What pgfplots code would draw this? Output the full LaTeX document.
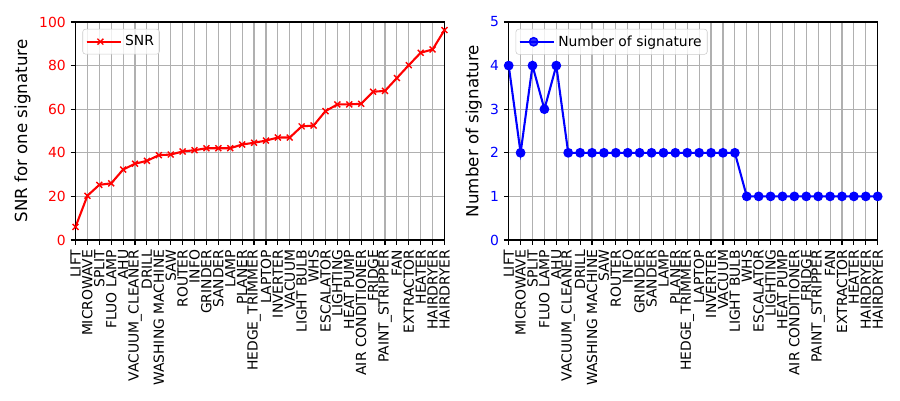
\documentclass[border=0pt]{standalone}
\usepackage{fontspec}
\setmainfont{DejaVu Sans}
\usepackage{pgfplots}
\pgfplotsset{compat=1.18}
\definecolor{gridgray}{HTML}{B0B0B0}
\definecolor{legendedge}{HTML}{CCCCCC}
\definecolor{mplred}{rgb}{1,0,0}
\definecolor{mplblue}{rgb}{0,0,1}

\pgfplotstableread{
x snr nsig
0 6.0 4
1 20.3 2
2 25.3 4
3 26.0 3
4 32.3 4
5 35.0 2
6 36.3 2
7 38.9 2
8 39.2 2
9 40.6 2
10 41.2 2
11 42.1 2
12 42.1 2
13 42.1 2
14 43.8 2
15 44.6 2
16 45.6 2
17 47.0 2
18 47.0 2
19 52.1 2
20 52.5 1
21 59.1 1
22 62.2 1
23 62.2 1
24 62.5 1
25 68.0 1
26 68.4 1
27 74.3 1
28 80.2 1
29 85.9 1
30 87.4 1
31 96.3 1
}\datatable

\pgfplotsset{
  mystyle/.style={
    scale only axis,
    width=265.68pt, height=156.96pt,
    anchor=south west,
    xmin=0, xmax=31,
    xtick={0,...,31},
    xticklabels={LIFT,MICROWAVE,SPLIT,FLUO LAMP,AHU,VACUUM\_CLEANER,DRILL,WASHING MACHINE,SAW,ROUTER,INFO,GRINDER,SANDER,LAMP,PLANER,HEDGE\_TRIMMER,LAPTOP,INVERTER,VACUUM,LIGHT BULB,WHS,ESCALATOR,LIGHTING,HEAT PUMP,AIR CONDITIONER,FRIDGE,PAINT\_STRIPPER,FAN,EXTRACTOR,HEATER,HAIRDRYER,HAIRDRYER},
    tick align=outside,
    tick pos=left,
    major tick length=3.5pt,
    every tick/.style={black, line width=0.8pt},
    grid=major,
    major grid style={gridgray, line width=0.8pt},
    axis line style={line width=0.8pt},
    tick label style={font=\fontsize{10}{12}\selectfont},
    xticklabel style={rotate=90, anchor=east, text=black},
    /pgf/number format/assume math mode=true,
    every axis y label/.style={at={(rel axis cs:0,0.5)}, rotate=90, anchor=center, font=\fontsize{12}{14}\selectfont},
    legend cell align=left,
    legend style={at={(0,1)}, anchor=north west, xshift=5pt, yshift=-5pt,
      draw=legendedge, rounded corners=2pt, fill=white, fill opacity=0.8, text opacity=1, draw opacity=1,
      font=\fontsize{10}{12}\selectfont, inner xsep=2pt, inner ysep=2.5pt},
    legend image code/.code={\draw[mark repeat=2,mark phase=2,##1] plot coordinates {(0pt,0pt) (10pt,0pt) (20pt,0pt)};\path (0pt,0pt) -- (25pt,0pt);},
    clip=true,
  }
}

\begin{document}
\begin{tikzpicture}[x=1pt,y=1pt]
\useasboundingbox (0,0) rectangle (648,288.72);
\begin{axis}[mystyle,
  at={(54.36pt,115.92pt)},
  ymin=0, ymax=100, ytick={0,20,40,60,80,100},
  yticklabel style={text=mplred},
  ylabel={SNR for one signature},
  every axis y label/.append style={yshift=38.2pt},
]
\addplot[mplred, line width=1.5pt, mark=x, mark size=3pt, mark options={line width=1pt}] table[x=x, y=snr] {\datatable};
\addlegendentry{SNR}
\end{axis}
\begin{axis}[mystyle,
  at={(366.26pt,115.92pt)},
  ymin=0, ymax=5, ytick={0,1,2,3,4,5},
  yticklabel style={text=mplblue},
  ylabel={Number of signature},
  every axis y label/.append style={yshift=25.2pt},
]
\addplot[mplblue, line width=1.5pt, mark=*, mark size=3pt, mark options={line width=1pt, fill=mplblue, draw=mplblue}] table[x=x, y=nsig] {\datatable};
\addlegendentry{Number of signature}
\end{axis}
\end{tikzpicture}
\end{document}
